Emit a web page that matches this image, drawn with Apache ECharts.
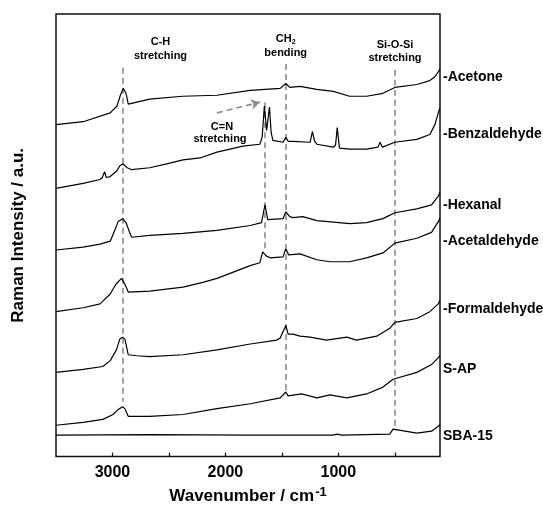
<!DOCTYPE html>
<html>
<head>
<meta charset="utf-8">
<script src="https://cdn.jsdelivr.net/npm/echarts@6.0.0/dist/echarts.min.js"></script>
<style>
  html, body { margin: 0; padding: 0; background: #fff; }
  #chartDom { width: 543px; height: 510px; }
</style>
</head>
<body>
<div id="chartDom"></div>
<script>
// spectra: [wavenumber cm-1, intensity a.u. (stacked offset included)]
const acetone = [
  [3500, 339], [3260, 342], [3020, 351], [2960, 358], [2930, 369], [2905, 376], [2880, 371],
  [2860, 360], [2670, 365], [2380, 368], [2075, 369], [1780, 374], [1515, 376], [1465, 381],
  [1430, 377], [1340, 378], [1190, 375], [1045, 373], [900, 368], [750, 368], [605, 371],
  [500, 377], [305, 380], [190, 384], [145, 388], [115, 393], [100, 396]
];
const benzaldehyde = [
  [3500, 274], [3260, 279], [3110, 283], [3090, 285], [3070, 291], [3055, 285], [3020, 286],
  [2960, 292], [2935, 297], [2905, 299], [2870, 295], [2830, 293], [2670, 295], [2520, 299],
  [2375, 303], [2225, 305], [2075, 311], [1845, 317], [1695, 319], [1675, 326], [1655, 358],
  [1635, 333], [1610, 357], [1595, 331], [1580, 323], [1490, 321], [1465, 326], [1445, 322],
  [1400, 322], [1250, 321], [1230, 332], [1210, 322], [1190, 319], [1045, 316], [1025, 318],
  [1010, 336], [990, 315], [900, 314], [750, 314], [650, 316], [630, 321], [610, 316],
  [500, 321], [305, 324], [190, 329], [145, 339], [110, 353], [100, 356]
];
const hexanal = [
  [3500, 211], [3260, 214], [3110, 217], [3020, 220], [2980, 231], [2950, 240], [2910, 243],
  [2880, 239], [2845, 228], [2830, 224], [2670, 226], [2375, 228], [2075, 231], [1780, 236],
  [1680, 239], [1650, 257], [1625, 242], [1490, 243], [1465, 250], [1430, 245], [1400, 244],
  [1315, 245], [1190, 241], [1090, 240], [900, 238], [750, 239], [605, 243], [500, 249],
  [305, 253], [175, 257], [115, 266], [100, 270]
];
const acetaldehyde = [
  [3500, 148], [3260, 152], [3110, 156], [3020, 166], [2970, 176], [2920, 182], [2890, 176],
  [2860, 168], [2670, 169], [2375, 173], [2200, 178], [2075, 182], [1780, 195], [1695, 198],
  [1670, 209], [1640, 205], [1605, 203], [1490, 204], [1465, 212], [1440, 206], [1340, 207],
  [1190, 201], [1075, 199], [900, 199], [750, 203], [605, 208], [500, 218], [305, 223],
  [175, 229], [110, 241], [100, 244]
];
const formaldehyde = [
  [3500, 86], [3260, 89], [3085, 92], [3020, 98], [2965, 109], [2935, 120], [2910, 122],
  [2890, 120], [2860, 104], [2785, 103], [2670, 102], [2375, 104], [2075, 109], [1780, 115],
  [1545, 119], [1515, 121], [1465, 134], [1445, 125], [1400, 125], [1340, 123], [1325, 125],
  [1250, 122], [1105, 119], [925, 122], [840, 119], [660, 123], [545, 131], [500, 137],
  [305, 141], [190, 148], [115, 156], [100, 160]
];
const sap = [
  [3500, 32], [3260, 35], [3085, 38], [2995, 43], [2950, 48], [2910, 51], [2890, 49],
  [2860, 41], [2670, 41], [2375, 43], [2075, 49], [1780, 54], [1515, 60], [1465, 66],
  [1445, 62], [1325, 64], [1190, 60], [1075, 63], [925, 60], [750, 64], [605, 71],
  [515, 79], [500, 81], [305, 86], [175, 94], [115, 101], [100, 103]
];
const sba15 = [
  [3500, 22], [2670, 22.5], [1780, 22], [1050, 22], [1010, 23], [970, 22], [545, 23],
  [515, 28], [500, 28], [305, 24], [175, 26], [115, 31], [100, 33]
];

const seriesNames = ['-Acetone', '-Benzaldehyde', '-Hexanal', '-Acetaldehyde', '-Formaldehyde', 'S-AP', 'SBA-15'];
const seriesData = [acetone, benzaldehyde, hexanal, acetaldehyde, formaldehyde, sap, sba15];

// x axis ticks / labels
const xTickValues = [500, 1000, 1500, 2000, 2500, 3000];
const xLabelValues = [1000, 2000, 3000];

// dashed guide lines: [wavenumber, from, to]
const guideLines = [
  [2905, 397, 56],   // C-H stretching
  [1465, 401, 68],   // CH2 bending
  [1655, 362, 209],  // C=N stretching
  [500, 395, 28]     // Si-O-Si stretching
];
const arrowFrom = [2075, 351];
const arrowTo = [1694, 362];

const FONT = '"Liberation Sans", Arial, sans-serif';
const GRAY = '#8c8c8c';

let myChart = echarts.init(document.getElementById('chartDom'));

// label positions (px) for the names on the right side
const nameY = [77.7, 135, 206, 241.7, 310, 370, 436.7];

let markData = guideLines.map(g => [
  { coord: [g[0], g[1]], symbol: 'none' },
  { coord: [g[0], g[2]], symbol: 'none' }
]);
markData.push([
  { coord: arrowFrom, symbol: 'none' },
  { coord: arrowTo, symbol: 'arrow', symbolSize: [8, 9] }
]);

let series = seriesData.map((d, i) => ({
  name: seriesNames[i],
  type: 'line',
  data: d,
  showSymbol: false,
  symbol: 'none',
  silent: true,
  lineStyle: { color: '#000', width: 1.2 },
  z: 3
}));
series[6].markLine = {
  silent: true,
  animation: false,
  label: { show: false },
  lineStyle: { color: GRAY, width: 1.6, type: [6, 4] },
  data: markData,
  z: 2
};

let texts = [];
seriesNames.forEach((n, i) => {
  texts.push({
    type: 'text', left: 443, top: nameY[i] - 8,
    style: { text: n, font: 'bold 14px ' + FONT, fill: '#000' }
  });
});
// annotations
function note(txt, x, y) {
  return {
    type: 'text', x: x, y: y,
    style: { text: txt, font: 'bold 11px ' + FONT, fill: '#000', align: 'center', verticalAlign: 'middle' }
  };
}
texts.push(note('C-H', 160.5, 42.3));
texts.push(note('stretching', 160.5, 56));
texts.push({
  type: 'text', x: 285.7, y: 39,
  style: {
    text: '{a|CH}{b|2}', align: 'center', verticalAlign: 'middle', fill: '#000',
    rich: {
      a: { fontSize: 11, fontWeight: 'bold', fontFamily: FONT },
      b: { fontSize: 7, fontWeight: 'bold', fontFamily: FONT, padding: [7, 0, 0, 0] }
    }
  }
});
texts.push(note('bending', 285.7, 52.5));
texts.push(note('Si-O-Si', 395, 45));
texts.push(note('stretching', 395, 58.3));
texts.push(note('C=N', 222, 126.5));
texts.push(note('stretching', 220, 139.3));

myChart.setOption({
  animation: false,
  backgroundColor: '#fff',
  grid: {
    left: 56, right: 103, top: 14, bottom: 44,
    show: true, borderColor: '#111', borderWidth: 1.5
  },
  xAxis: {
    type: 'value',
    min: 100, max: 3500,
    inverse: true,
    axisLine: { show: false },
    splitLine: { show: false },
    axisTick: {
      inside: true, length: 4, customValues: xTickValues,
      lineStyle: { color: '#111', width: 1.2 }
    },
    axisLabel: {
      customValues: xLabelValues, margin: 8,
      formatter: v => String(v),
      fontSize: 16, fontWeight: 'bold', fontFamily: FONT, color: '#000'
    },
    name: 'Wavenumber / cm{sup|-1}',
    nameLocation: 'middle',
    nameGap: 28,
    nameTextStyle: {
      fontSize: 17, fontWeight: 'bold', fontFamily: FONT, color: '#000',
      rich: {
        sup: { fontSize: 13, fontWeight: 'bold', fontFamily: FONT, color: '#000', padding: [0, 0, 9, 1] }
      }
    }
  },
  yAxis: {
    type: 'value',
    min: 0, max: 452,
    axisLine: { show: false },
    axisTick: { show: false },
    axisLabel: { show: false },
    splitLine: { show: false },
    name: 'Raman Intensity / a.u.',
    nameLocation: 'middle',
    nameGap: 29,
    nameTextStyle: { fontSize: 17, fontWeight: 'bold', fontFamily: FONT, color: '#000' }
  },
  graphic: texts,
  series: series
});
</script>
</body>
</html>
